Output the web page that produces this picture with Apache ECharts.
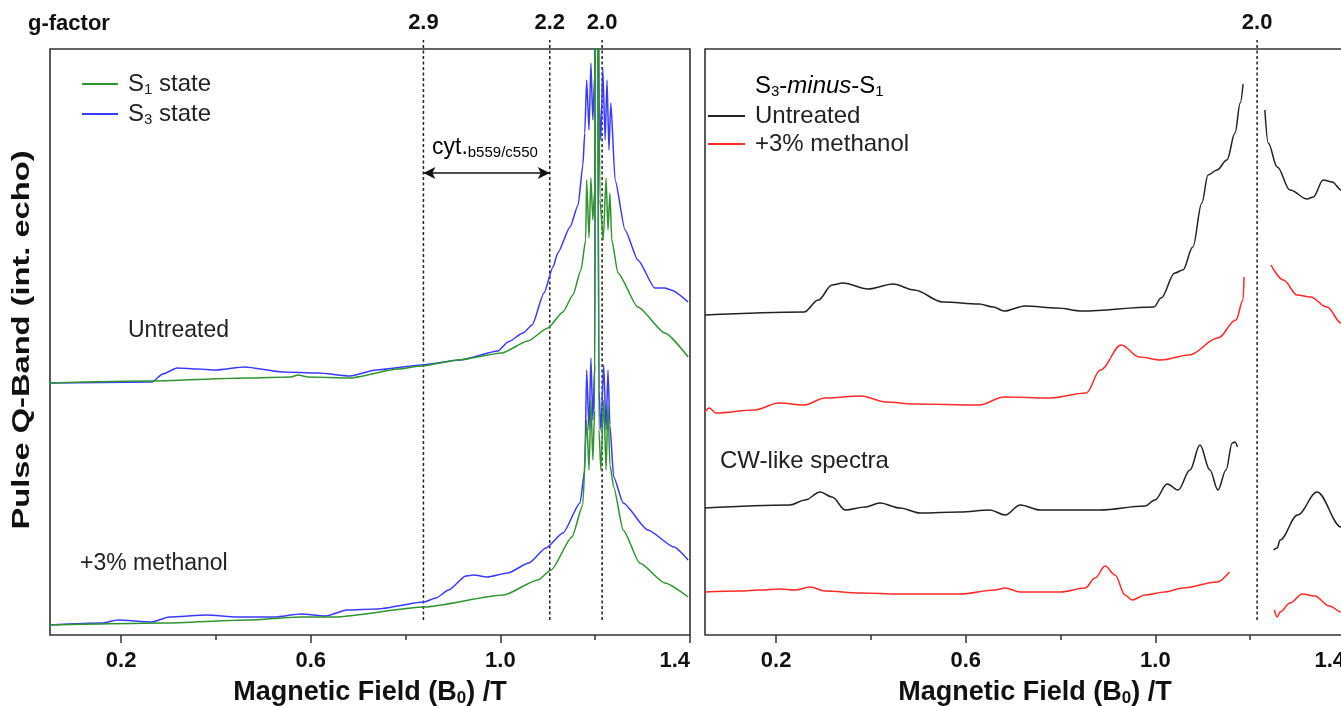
<!DOCTYPE html>
<html><head><meta charset="utf-8">
<script src="https://cdn.jsdelivr.net/npm/echarts@6/dist/echarts.min.js"></script>
<style>html,body{margin:0;padding:0;background:#fff}#c{width:1341px;height:706px}</style>
</head><body><div id="c"></div><script>
// ---- data: [magnetic field (T), signal incl. vertical offset (a.u.)] ----
const s1Untreated = [[0.045,252],[0.256,254],[0.467,257],[0.558,258],[0.573,260],[0.594,258],[0.683,257],[0.784,266],[0.834,269],[0.910,275],[1.003,282],[1.058,294],[1.100,307],[1.132,323],[1.153,340],[1.170,365],[1.180,395],[1.182,455],[1.187,397],[1.191,457],[1.195,415],[1.199,445],[1.2015,900],[1.2035,900],[1.210,435],[1.217,395],[1.223,457],[1.227,405],[1.231,442],[1.235,395],[1.248,362],[1.290,328],[1.347,302],[1.396,278]];
const s3Untreated = [[0.045,252],[0.265,253],[0.288,261],[0.318,267],[0.362,266],[0.398,265],[0.461,268],[0.541,263],[0.615,262],[0.683,259],[0.737,265],[0.834,270],[0.915,275],[0.995,284],[1.016,293],[1.048,302],[1.067,310],[1.092,342],[1.111,368],[1.121,382],[1.147,408],[1.164,430],[1.174,470],[1.178,502],[1.182,555],[1.187,505],[1.191,572],[1.195,515],[1.199,560],[1.2015,900],[1.2035,900],[1.208,535],[1.212,495],[1.216,567],[1.221,495],[1.225,555],[1.229,485],[1.233,532],[1.242,455],[1.263,405],[1.290,375],[1.326,347],[1.347,347],[1.360,345],[1.396,333]];
const s1Methanol = [[0.045,10],[0.292,12],[0.467,15],[0.579,18],[0.651,18],[0.839,28],[1.007,40],[1.079,55],[1.107,65],[1.151,98],[1.174,130],[1.182,215],[1.187,165],[1.191,235],[1.195,175],[1.199,225],[1.2015,900],[1.2035,900],[1.208,205],[1.212,165],[1.218,235],[1.223,165],[1.227,230],[1.231,170],[1.239,148],[1.259,105],[1.294,72],[1.347,52],[1.396,38]];
const s3Methanol = [[0.045,10],[0.160,12],[0.193,15],[0.265,13],[0.301,18],[0.381,20],[0.444,18],[0.524,18],[0.579,21],[0.632,19],[0.676,25],[0.740,26],[0.839,33],[0.864,37],[0.891,45],[0.927,59],[0.944,60],[0.972,58],[1.016,62],[1.060,72],[1.096,87],[1.132,102],[1.168,132],[1.178,165],[1.182,265],[1.187,205],[1.191,277],[1.195,215],[1.199,270],[1.2015,900],[1.2035,900],[1.208,245],[1.212,205],[1.218,270],[1.223,205],[1.227,265],[1.231,210],[1.239,158],[1.259,132],[1.311,105],[1.366,88],[1.396,75]];
const diffUntreated = [[0.050,320],[0.259,323],[0.289,335],[0.318,350],[0.341,352],[0.394,346],[0.447,351],[0.491,345],[0.552,333],[0.628,331],[0.658,328],[0.681,324],[0.725,329],[0.793,327],[0.845,324],[0.997,328],[1.012,337],[1.041,362],[1.058,365],[1.079,388],[1.098,432],[1.111,460],[1.130,465],[1.151,475],[1.168,502],[1.179,532],[1.185,551],[1.21,'-'],[1.231,525],[1.238,492],[1.257,468],[1.284,445],[1.320,436],[1.333,438],[1.354,455],[1.373,453],[1.392,445],[1.411,437]];
const diffMethanol = [[0.050,223],[0.059,227],[0.073,222],[0.154,225],[0.206,232],[0.259,230],[0.303,237],[0.379,239],[0.432,233],[0.491,231],[0.628,230],[0.681,238],[0.778,237],[0.854,242],[0.884,265],[0.928,290],[0.966,278],[1.012,275],[1.071,280],[1.132,297],[1.170,315],[1.185,335],[1.187,358],[1.21,'-'],[1.244,370],[1.270,355],[1.299,340],[1.327,338],[1.362,328],[1.392,312],[1.411,303]];
const cwUntreated = [[0.050,127],[0.229,130],[0.261,135],[0.293,143],[0.318,138],[0.346,125],[0.388,128],[0.419,132],[0.461,127],[0.504,122],[0.588,123],[0.651,125],[0.683,120],[0.715,130],[0.757,125],[0.884,125],[0.978,129],[0.999,135],[1.025,151],[1.048,145],[1.073,165],[1.094,190],[1.115,165],[1.132,145],[1.149,165],[1.162,192],[1.168,193],[1.173,188],[1.21,'-'],[1.249,85],[1.257,87],[1.263,95],[1.300,120],[1.341,143],[1.392,108],[1.411,95]];
const cwMethanol = [[0.050,43],[0.124,44],[0.166,45],[0.209,46],[0.240,45],[0.272,48],[0.303,44],[0.377,42],[0.462,41],[0.588,41],[0.662,45],[0.683,47],[0.715,43],[0.800,43],[0.852,47],[0.873,57],[0.894,69],[0.915,60],[0.936,40],[0.951,35],[0.978,40],[1.020,43],[1.058,47],[1.130,53],[1.156,63],[1.21,'-'],[1.251,25],[1.257,18],[1.263,23],[1.284,32],[1.310,41],[1.336,39],[1.367,29],[1.392,23],[1.411,20]];
// g-factor markers (field position in T at Q-band) and their labels
const gLabelsLeft = ['2.9','2.2','2.0'];
const gFieldsLeft = [0.8377,1.1042,1.2146];
const gLabelsRight = ['2.0'];
const gFieldsRight = [1.2146];
const majorTicks = [0.2,0.6,1.0,1.4];
const minorTicks = [0.4,0.8,1.2];
const cytRange = [0.8377,1.1042];

const F = "'Liberation Sans', Arial, sans-serif";
const TXT = '#222';
const GREEN = '#2f942f', BLUE = '#3a3aff', BLACK = '#222', RED = '#ff2a2a';
const X0 = 0.05, X1 = 1.4, Y0 = 0, Y1 = 586;

function mkLine(name, data, color, gi){
  return {type:'line', name, data, xAxisIndex: gi*3, yAxisIndex: gi, symbol:'none', showSymbol:false,
    smooth: gi===0 ? 0.2 : 0.35, smoothMonotone:'x', clip:true, animation:false,
    lineStyle:{color, width:1.5}, itemStyle:{color}, emphasis:{disabled:true}, z:3};
}
function gLine(field, gi){
  return {type:'line', data:[[field,15],[field,595]], xAxisIndex: gi*3, yAxisIndex: gi, symbol:'none',
    clip:false, silent:true, animation:false, lineStyle:{color:'#222', width:1.5, type:[3,2.5]}, z:2};
}
function lookup(v, fields, labels){
  let bi=0, bd=1e9; fields.forEach((f,i)=>{const d=Math.abs(f-v); if(d<bd){bd=d;bi=i;}}); return labels[bi];
}
function mkRich(fs, ss){
  return {
    a:{fontSize:fs, fontFamily:F, color:TXT},
    s:{fontSize:ss, fontFamily:F, color:TXT, padding:[Math.round(fs*0.45),0,0,0]},
    i:{fontSize:fs, fontFamily:F, color:TXT, fontStyle:'italic'}
  };
}
const richL = mkRich(24, 15), richR = mkRich(24, 15), richC = mkRich(23, 15);
const nameRich = {
  a:{fontSize:27, fontFamily:F, fontWeight:'bold', color:'#111'},
  s:{fontSize:17, fontFamily:F, fontWeight:'bold', color:'#111', padding:[12,0,0,0]}
};
function xAxes(gi, gFields, gLabels, namePad){
  const common = {type:'value', gridIndex: gi, min:X0, max:X1, splitLine:{show:false}, axisLine:{show:false}};
  return [
    Object.assign({}, common, {position:'bottom',
      axisTick:{show:true, customValues:majorTicks, length:8, lineStyle:{color:'#333', width:1.5}},
      axisLabel:{show:true, customValues:majorTicks, formatter:v=>Number(v).toFixed(1), fontWeight:'bold', fontSize:22, fontFamily:F, color:'#111', margin:15, alignMaxLabel:'right'},
      name:'{a|Magnetic Field (B}{s|0}{a|) /T}', nameLocation:'middle', nameGap:43,
      nameTextStyle:{rich:nameRich, padding:namePad}}),
    Object.assign({}, common, {position:'bottom',
      axisTick:{show:true, customValues:minorTicks, length:5, lineStyle:{color:'#333', width:1.5}},
      axisLabel:{show:false}}),
    Object.assign({}, common, {position:'top', axisTick:{show:false},
      axisLabel:{show:true, customValues:gFields, formatter:v=>lookup(v,gFields,gLabels), fontWeight:'bold', fontSize:22, fontFamily:F, color:'#111', margin:15}})
  ];
}

const chart = echarts.init(document.getElementById('c'), null, {renderer:'canvas'});
chart.setOption({
  animation:false,
  backgroundColor:'#fff',
  grid:[
    {left:50, top:49, width:640, height:586, show:true, borderColor:'#333', borderWidth:1.6, backgroundColor:'transparent', outerBoundsMode:'none', containLabel:false},
    {left:705, top:49, width:640, height:586, show:true, borderColor:'#333', borderWidth:1.6, backgroundColor:'transparent', outerBoundsMode:'none', containLabel:false}
  ],
  xAxis: xAxes(0, gFieldsLeft, gLabelsLeft, [0,0,0,0]).concat(xAxes(1, gFieldsRight, gLabelsRight, [0,0,0,20])),
  yAxis:[
    {type:'value', gridIndex:0, min:Y0, max:Y1, axisLine:{show:false}, axisTick:{show:false}, axisLabel:{show:false}, splitLine:{show:false}},
    {type:'value', gridIndex:1, min:Y0, max:Y1, axisLine:{show:false}, axisTick:{show:false}, axisLabel:{show:false}, splitLine:{show:false}}
  ],
  legend:[
    {data:['S1 state','S3 state'], orient:'vertical', left:82, top:72, padding:0, itemWidth:36, itemHeight:2, icon:'rect', itemGap:5,
     selectedMode:false, formatter:n=>n==='S1 state'?'{a|S}{s|1}{a| state}':'{a|S}{s|3}{a| state}',
     textStyle:{rich:richL, padding:[0,0,0,5]}},
    {data:['Untreated','+3% methanol'], orient:'vertical', left:708, top:104, padding:0, itemWidth:37, itemHeight:2, icon:'rect', itemGap:4,
     selectedMode:false, formatter:n=>'{a|'+n+'}', textStyle:{rich:richR, padding:[0,0,0,5]}}
  ],
  graphic:[
    {type:'text', x:22, y:340, rotation:Math.PI/2, scaleX:1.36,
     style:{text:'Pulse Q-Band (int. echo)', fontSize:24, fontWeight:'bold', fontFamily:F, fill:'#111', align:'center', verticalAlign:'middle'}},
    {type:'text', left:28, top:13, style:{text:'g-factor', fontSize:22, fontWeight:'bold', fontFamily:F, fill:'#111'}},
    {type:'text', left:128, top:319, style:{text:'Untreated', fontSize:23, fontFamily:F, fill:TXT}},
    {type:'text', left:80, top:552, style:{text:'+3% methanol', fontSize:23, fontFamily:F, fill:TXT}},
    {type:'text', left:432, top:136, style:{text:'{a|cyt.}{s|b559/c550}', rich:richC}},
    {type:'text', left:755, top:74, style:{text:'{a|S}{s|3}{a|-}{i|minus}{a|-S}{s|1}', rich:richR}},
    {type:'text', left:720, top:449, style:{text:'CW-like spectra', fontSize:24, fontFamily:F, fill:TXT}}
  ],
  series:[
    mkLine('S3 state', s3Untreated, BLUE, 0),
    mkLine('S3 state', s3Methanol, BLUE, 0),
    mkLine('S1 state', s1Untreated, GREEN, 0),
    mkLine('S1 state', s1Methanol, GREEN, 0),
    mkLine('Untreated', diffUntreated, BLACK, 1),
    mkLine('+3% methanol', diffMethanol, RED, 1),
    mkLine('Untreated', cwUntreated, BLACK, 1),
    mkLine('+3% methanol', cwMethanol, RED, 1),
    ...gFieldsLeft.map(f=>gLine(f,0)),
    ...gFieldsRight.map(f=>gLine(f,1)),
    {type:'line', data:[], xAxisIndex:0, yAxisIndex:0, silent:true,
     markLine:{silent:true, symbol:['arrow','arrow'], symbolSize:[9,12], animation:false, label:{show:false},
       lineStyle:{color:'#111', width:1.5, type:'solid'},
       data:[[{coord:[cytRange[0],462]},{coord:[cytRange[1],462]}]]}}
  ]
});
</script></body></html>
